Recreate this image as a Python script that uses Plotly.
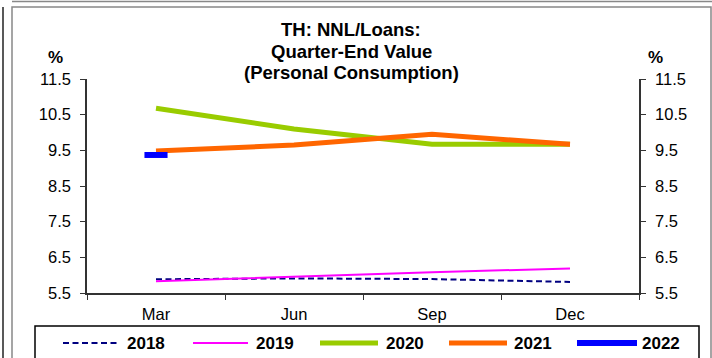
import plotly.graph_objects as go

categories = ["Mar", "Jun", "Sep", "Dec"]
y2018 = [5.885, 5.91, 5.89, 5.81]
y2019 = [5.83, 5.96, 6.08, 6.19]
y2020 = [10.68, 10.1, 9.67, 9.67]
y2021 = [9.48, 9.65, 9.95, 9.67]
y2022 = [9.37]
y_ticks = [5.5, 6.5, 7.5, 8.5, 9.5, 10.5, 11.5]
y_tick_labels = ["5.5", "6.5", "7.5", "8.5", "9.5", "10.5", "11.5"]
title_lines = ["TH: NNL/Loans:", "Quarter-End Value", "(Personal Consumption)"]
series_names = ["2018", "2019", "2020", "2021", "2022"]

W, H = 712, 358
ML, MR, MT, MB = 87, 73, 79, 65
PW, PH = W - ML - MR, H - MT - MB
FONT = "Liberation Sans, Arial, sans-serif"
DASH = "6px,3.5px"


def px(x):
    return (x - ML) / PW


def py(y):
    return (H - MB - y) / PH


fig = go.Figure()
fig.add_trace(go.Scatter(x=categories, y=y2018, mode="lines", name="2018",
                         line=dict(color="#000080", width=2, dash=DASH), showlegend=False))
fig.add_trace(go.Scatter(x=categories, y=y2019, mode="lines", name="2019",
                         line=dict(color="#FF00FF", width=2), showlegend=False))
fig.add_trace(go.Scatter(x=categories, y=y2020, mode="lines", name="2020",
                         line=dict(color="#99CC00", width=5), showlegend=False))
fig.add_trace(go.Scatter(x=categories, y=y2021, mode="lines", name="2021",
                         line=dict(color="#FF6600", width=5), showlegend=False))
fig.add_trace(go.Scatter(x=categories[:len(y2022)], y=y2022, mode="markers", name="2022",
                         marker=dict(symbol="line-ew", size=16.5, color="#0000FF",
                                     line=dict(color="#0000FF", width=6)),
                         showlegend=False))

axis_col = "#333333"
tick_font = dict(family=FONT, size=16.5, color="black")

fig.update_layout(
    width=W, height=H,
    margin=dict(l=ML, r=MR, t=MT, b=MB),
    paper_bgcolor="white", plot_bgcolor="white",
    showlegend=False,
    xaxis=dict(type="category", categoryorder="array", categoryarray=categories,
               range=[-0.5, 3.5], tickson="boundaries", ticks="outside", ticklen=5,
               tickcolor=axis_col, showline=True, linecolor=axis_col, linewidth=1.5,
               showgrid=False, zeroline=False, tickfont=tick_font, ticklabelstandoff=5),
    yaxis=dict(range=[5.5, 11.5], tickvals=y_ticks, ticktext=y_tick_labels,
               ticks="outside", ticklen=5, tickcolor=axis_col, showline=True,
               linecolor=axis_col, linewidth=1.5, showgrid=False, zeroline=False,
               tickfont=tick_font, ticklabelstandoff=6),
    yaxis2=dict(range=[5.5, 11.5], tickvals=y_ticks, ticktext=y_tick_labels,
                overlaying="y", side="right", anchor="x", matches="y",
                ticks="outside", ticklen=5, tickcolor=axis_col, showline=True,
                linecolor=axis_col, linewidth=1.5, showgrid=False, zeroline=False,
                tickfont=tick_font, ticklabelstandoff=6),
)
fig.add_trace(go.Scatter(x=categories, y=[None] * 4, yaxis="y2", showlegend=False,
                         hoverinfo="skip"))

shapes = []
# frame
shapes.append(dict(type="line", xref="paper", yref="paper", x0=px(3), x1=px(3), y0=py(7), y1=py(360),
                   line=dict(color="#222222", width=1.5)))
shapes.append(dict(type="rect", xref="paper", yref="paper", x0=px(12), x1=px(711), y0=py(7), y1=py(362),
                   line=dict(color="#888888", width=1.5)))
shapes.append(dict(type="line", xref="paper", yref="paper", x0=px(12), x1=px(712), y0=py(1.5), y1=py(1.5),
                   line=dict(color="#888888", width=1.5)))
# legend box
shapes.append(dict(type="rect", xref="paper", yref="paper", x0=px(35), x1=px(699), y0=py(326), y1=py(362),
                   line=dict(color="black", width=1.5)))

legend_styles = [
    dict(color="#000080", width=2, dash=DASH),
    dict(color="#FF00FF", width=2),
    dict(color="#99CC00", width=5),
    dict(color="#FF6600", width=5),
    dict(color="#0000FF", width=6),
]
legend_line_x = [(63, 120), (193, 248), (320, 378), (449, 507), (577, 637)]
legend_text_x = [125, 254, 384, 512, 640]
LEG_Y = 343

annotations = []
for name, st, (a, b), tx in zip(series_names, legend_styles, legend_line_x, legend_text_x):
    shapes.append(dict(type="line", xref="paper", yref="paper", x0=px(a), x1=px(b),
                       y0=py(LEG_Y), y1=py(LEG_Y), line=st))
    annotations.append(dict(text=name, xref="paper", yref="paper", x=px(tx), y=py(LEG_Y),
                            xanchor="left", yanchor="middle", showarrow=False,
                            font=dict(family=FONT, size=17, color="black", weight="bold")))

for line, yc in zip(title_lines, [30, 51, 72]):
    annotations.append(dict(text=line, xref="paper", yref="paper", x=px(351), y=py(yc),
                            xanchor="center", yanchor="middle", showarrow=False,
                            font=dict(family=FONT, size=18.5, color="black", weight="bold")))

for xc in [55, 655]:
    annotations.append(dict(text="%", xref="paper", yref="paper", x=px(xc), y=py(57),
                            xanchor="center", yanchor="middle", showarrow=False,
                            font=dict(family=FONT, size=17, color="black", weight="bold")))

fig.update_layout(shapes=shapes, annotations=annotations)
fig.write_html("out.html", config={"displayModeBar": False},
               post_script="document.body.style.margin='0';document.body.style.overflow='hidden';")
